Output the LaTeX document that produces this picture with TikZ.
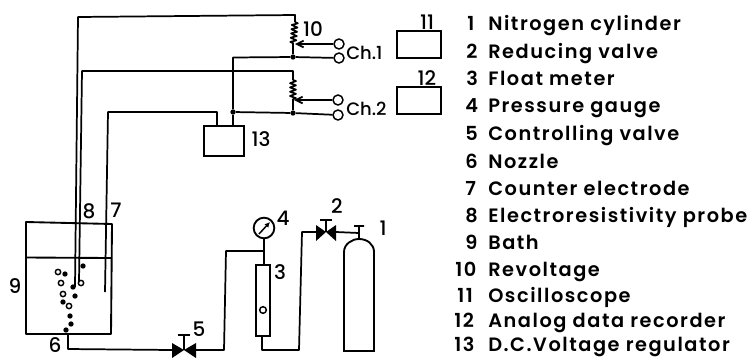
\documentclass[tikz,border=0pt]{standalone}
\usepackage{fontspec}
\setmainfont[LetterSpace=8]{Poppins SemiBold}
\newfontfamily\digitfont{Poppins Medium}
\usetikzlibrary{arrows.meta,decorations.pathmorphing}
\tikzset{
 wire/.style={line width=1.3pt,line join=round},
 lab/.style={inner sep=0pt,font=\fontsize{15}{15}\selectfont\digitfont},
 chlab/.style={inner sep=0pt,anchor=west,font=\fontsize{13.5}{15}\selectfont\digitfont},
 leg/.style={inner sep=0pt,anchor=base west,font=\fontsize{14.5}{15}\selectfont},
 term/.style={circle,draw,line width=1.1pt,inner sep=0pt,minimum size=7.5pt},
 dotj/.style={circle,fill=black,inner sep=0pt,minimum size=4pt},
 boxn/.style={draw,line width=1.4pt,inner sep=0pt},
 bub/.style={circle,draw,line width=1.1pt,inner sep=0pt,minimum size=4pt},
 bubf/.style={circle,fill=black,inner sep=0pt,minimum size=4pt},
 zig/.style={wire,decorate,decoration={zigzag,segment length=3.2pt,amplitude=2.2pt}},
 vfill/.style={fill=black,draw=none}
}
\newcommand{\legitem}[4]{\node[leg] at (#1,#3) {#2}; \node[leg] at (488,#3) {#4};}
\begin{document}
\begin{tikzpicture}[x=0.75pt,y=-0.75pt]
\useasboundingbox (0,0) rectangle (752,358);
% boxes
\node[boxn,minimum width=33pt,minimum height=20.5pt] (b11) at (419,44.5) {};
\node[boxn,minimum width=33pt,minimum height=20.5pt] (b12) at (419,100.5) {};
\node[boxn,minimum width=30pt,minimum height=22pt] (b13) at (224,141) {};
% terminals
\node[term] (c1a) at (339,44) {};
\node[term] (c1b) at (339,58) {};
\node[term] (c2a) at (338,100) {};
\node[term] (c2b) at (338,115) {};
\node[dotj] (j1) at (293,57) {};
\node[dotj] (j2) at (293,113) {};
\node[dotj] (j3) at (233,112) {};
\coordinate (r1t) at (295,22);
\coordinate (r2t) at (293,80);
% wires
\draw[wire] (75,287) -- (78,17) -- (295,15) -- (r1t);
\draw[zig] (r1t) -- (293,45);
\draw[wire] (293,45) -- (j1);
\draw[wire] (79,282) -- (82,71) -- (293,71) -- (r2t);
\draw[zig] (r2t) -- (293,101);
\draw[wire] (293,101) -- (j2);
\draw[wire] (c1b) -- (j1) -- (233,57.5) -- (j3) -- (233,126);
\draw[wire] (c2b) -- (j2) -- (j3);
\draw[wire] (217,126) -- (217,112) -- (108,112) -- (105,292);
\draw[wire,-{Straight Barb[length=5pt,width=5pt]}] (c1a) -- (295,44);
\draw[wire,-{Straight Barb[length=5pt,width=5pt]}] (c2a) -- (294,100);
% bath
\draw[line width=1.4pt,line join=round] (26,222) -- (112,224) -- (111,334) -- (26,334) -- cycle;
\draw[line width=1.4pt] (26,257.5) -- (111,258);
% bubbles
\foreach \x/\y in {58/272,61/283,63/294,69/306,81/283}
 \node[bub] at (\x,\y) {};
\foreach \x/\y in {65/274,83/266,73/287,75/296,63/302,70/316,71/324,66/330}
 \node[bubf] at (\x,\y) {};
% gas line
\coordinate (v5l) at (172,350);
\coordinate (v5r) at (196,350);
\coordinate (v5c) at (184,350);
\coordinate (v2l) at (316,232);
\coordinate (v2r) at (336,232);
\coordinate (v2c) at (326,232);
\draw[wire] (68,334) -- (68,349) -- (v5l);
\draw[vfill] (v5l) ++(0,-7) -- (v5c) -- ++(12,-7) -- ++(0,15) -- (v5c) -- ++(-12,8) -- cycle;
\draw[wire] (v5c) -- (184,335) (178,335) -- (190,335);
\draw[wire] (v5r) -- (224,350) -- (226,251) -- (264,251);
\node[circle,draw,line width=1.4pt,inner sep=0pt,minimum size=15.5pt] (g4) at (264,228) {};
\draw[line width=1.1pt,-{Latex[length=4pt,width=4pt]}] (259,234) -- (270,222);
\draw[wire] (g4) -- (264,265);
\node[boxn,minimum width=10.5pt,minimum height=53pt] (m3) at (263,300.5) {};
\node[bub,minimum size=5pt] (fl) at (263,310) {};
\draw[wire] (262,336) -- (262,350) -- (299,350) -- (302,232) -- (v2l);
\draw[vfill] (316,225) -- (v2c) -- (336,225) -- (336,241) -- (v2c) -- (316,241) -- cycle;
\draw[wire] (v2c) -- (326,220) (320,220) -- (332,220);
\draw[wire] (v2r) -- (359,233) -- (359,226) (354,226) -- (364,226);
\draw[wire] (359,233) -- (359,239);
\draw[line width=1.4pt] (344,351) -- (344,252) .. controls (344,244) and (352,239) .. (359,239) .. controls (367,239) and (374,244) .. (374,252) -- (374,351) -- cycle;
% labels
\node[lab] at (313,29) {10};
\node[lab] at (427,22) {11};
\node[lab] at (427,78) {12};
\node[lab] at (261,139) {13};
\node[chlab] at (346,53) {Ch.1};
\node[chlab] at (346,109) {Ch.2};
\node[lab] at (89,211) {8};
\node[lab] at (116,210) {7};
\node[lab] at (15,286) {9};
\node[lab] at (55,345) {6};
\node[lab] at (199,329) {5};
\node[lab] at (283,218) {4};
\node[lab] at (280,272) {3};
\node[lab] at (337,206) {2};
\node[lab] at (383,228) {1};
% legend
\legitem{467}{1}{30}{Nitrogen cylinder}
\legitem{466}{2}{58}{Reducing valve}
\legitem{466}{3}{85}{Float meter}
\legitem{465}{4}{112}{Pressure gauge}
\legitem{465}{5}{140}{Controlling valve}
\legitem{465}{6}{168}{Nozzle}
\legitem{465}{7}{195}{Counter electrode}
\legitem{465}{8}{222}{Electroresistivity probe}
\legitem{465}{9}{249}{Bath}
\legitem{455}{10}{276}{Revoltage}
\legitem{457}{11}{302}{Oscilloscope}
\legitem{454}{12}{327}{Analog data recorder}
\legitem{454}{13}{351}{D.C.Voltage regulator}
\end{tikzpicture}
\end{document}
